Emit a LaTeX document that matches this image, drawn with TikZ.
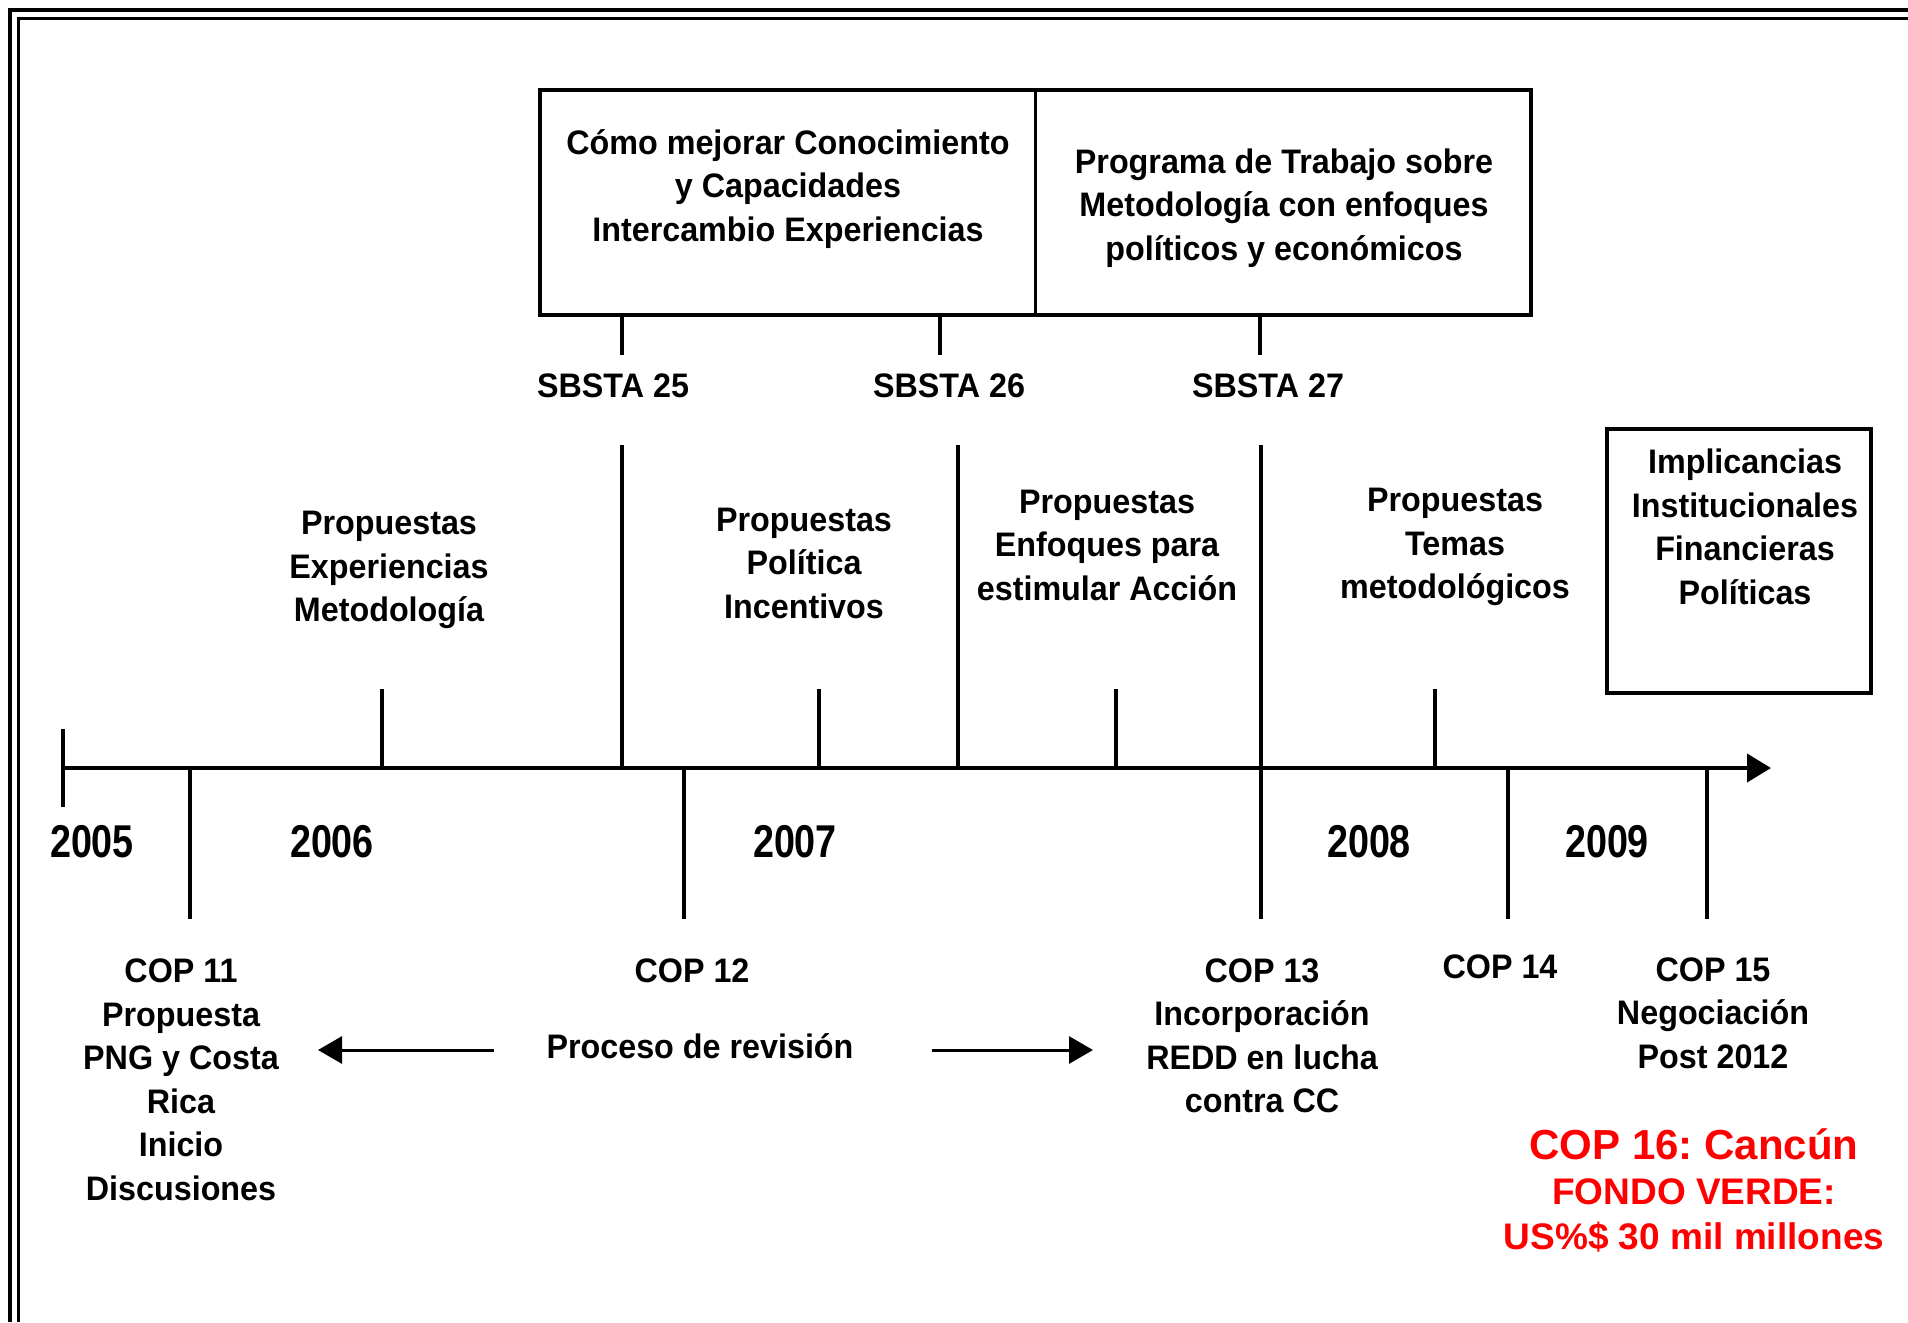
\documentclass[tikz,border=0pt]{standalone}
\usepackage{fontspec}
\setmainfont{Liberation Sans}
\newfontfamily\lblfont{Liberation Sans}[FakeStretch=0.95]
\newfontfamily\yrfont{Liberation Sans}[FakeStretch=0.82]
\usetikzlibrary{arrows.meta}
\frenchspacing

\begin{document}
\begin{tikzpicture}[x=1pt,y=-1pt,
  lbl/.style={font=\lblfont\bfseries\fontsize{34}{43.5}\selectfont, align=center, inner sep=0pt},
  yr/.style={font=\yrfont\bfseries\fontsize{46}{50}\selectfont, inner sep=0pt},
  bigred/.style={text=red, font=\bfseries\fontsize{42}{48}\selectfont, inner sep=0pt},
  smallred/.style={text=red, font=\bfseries\fontsize{37}{44}\selectfont, inner sep=0pt},
  tickline/.style={line width=3.5pt},
  boxline/.style={line width=4.5pt},
  axisline/.style={line width=4pt, -{Triangle[length=24pt,width=28pt]}},
  revline/.style={line width=3pt, -{Triangle[length=24pt,width=27pt]}},
]
\useasboundingbox (0,0) rectangle (1908,1322);

% double frame (open at right and bottom)
\draw[line width=4pt] (10,1322) -- (10,10) -- (1908,10);
\draw[line width=3pt] (18,1322) -- (18,19) -- (1908,19);

% SBSTA work-programme boxes
\draw[boxline] (540,90) rectangle (1531,315);
\draw[line width=3pt] (1035,90) -- (1035,315);
\node[lbl] (know) at (788,189) {Cómo mejorar Conocimiento\\y Capacidades\\Intercambio Experiencias};
\node[lbl] (prog) at (1284,208) {Programa de Trabajo sobre\\Metodología con enfoques\\políticos y económicos};

% SBSTA ticks and labels
\foreach \x in {622,940,1260} \draw[tickline] (\x,315) -- (\x,355);
\node[lbl] (sb25) at (613,386) {SBSTA 25};
\node[lbl] (sb26) at (949,386) {SBSTA 26};
\node[lbl] (sb27) at (1268,386) {SBSTA 27};

% time axis
\draw[axisline] (63,768) -- (1771,768);
\draw[tickline] (63,729) -- (63,807);
\foreach \x in {190,684,1508,1707} \draw[tickline] (\x,768) -- (\x,919);
\foreach \x in {382,819,1116,1435} \draw[tickline] (\x,689) -- (\x,768);
\foreach \x in {622,958} \draw[tickline] (\x,445) -- (\x,768);
\draw[tickline] (1261,445) -- (1261,919);

% years
\node[yr] (y05) at (92,842) {2005};
\node[yr] (y06) at (332,842) {2006};
\node[yr] (y07) at (795,842) {2007};
\node[yr] (y08) at (1369,842) {2008};
\node[yr] (y09) at (1607,842) {2009};

% proposals above the axis
\node[lbl] (p1) at (389,570) {Propuestas\\Experiencias\\Metodología};
\node[lbl] (p2) at (804,563) {Propuestas\\Política\\Incentivos};
\node[lbl] (p3) at (1107,545) {Propuestas\\Enfoques para\\estimular Acción};
\node[lbl] (p4) at (1455,547) {Propuestas\\Temas\\metodológicos};

% implications box
\draw[boxline] (1607,429) rectangle (1871,693);
\node[lbl] (impl) at (1745,527) {Implicancias\\Institucionales\\Financieras\\Políticas};

% COP meetings below the axis
\node[lbl] (cop11) at (181,1080) {COP 11\\Propuesta\\PNG y Costa\\Rica\\Inicio\\Discusiones};
\node[lbl] (cop12) at (692,971) {COP 12};
\node[lbl] (proc) at (700,1046) {Proceso de revisión};
\node[lbl] (cop13) at (1262,1036) {COP 13\\Incorporación\\REDD en lucha\\contra CC};
\node[lbl] (cop14) at (1500,967) {COP 14};
\node[lbl] (cop15) at (1713,1013) {COP 15\\Negociación\\Post 2012};

% review-process arrows
\coordinate (revLs) at (494,1050);
\coordinate (revLe) at (318,1050);
\coordinate (revRs) at (932,1050);
\coordinate (revRe) at (1093,1050);
\draw[revline] (revLs) -- (revLe);
\draw[revline] (revRs) -- (revRe);

% Cancún note
\node[bigred] (cop16) at (1694,1144) {COP 16: Cancún};
\node[smallred] (fondo) at (1694,1192) {FONDO VERDE:};
\node[smallred] (monto) at (1694,1237) {US\%\$ 30 mil millones};
\end{tikzpicture}
\end{document}
